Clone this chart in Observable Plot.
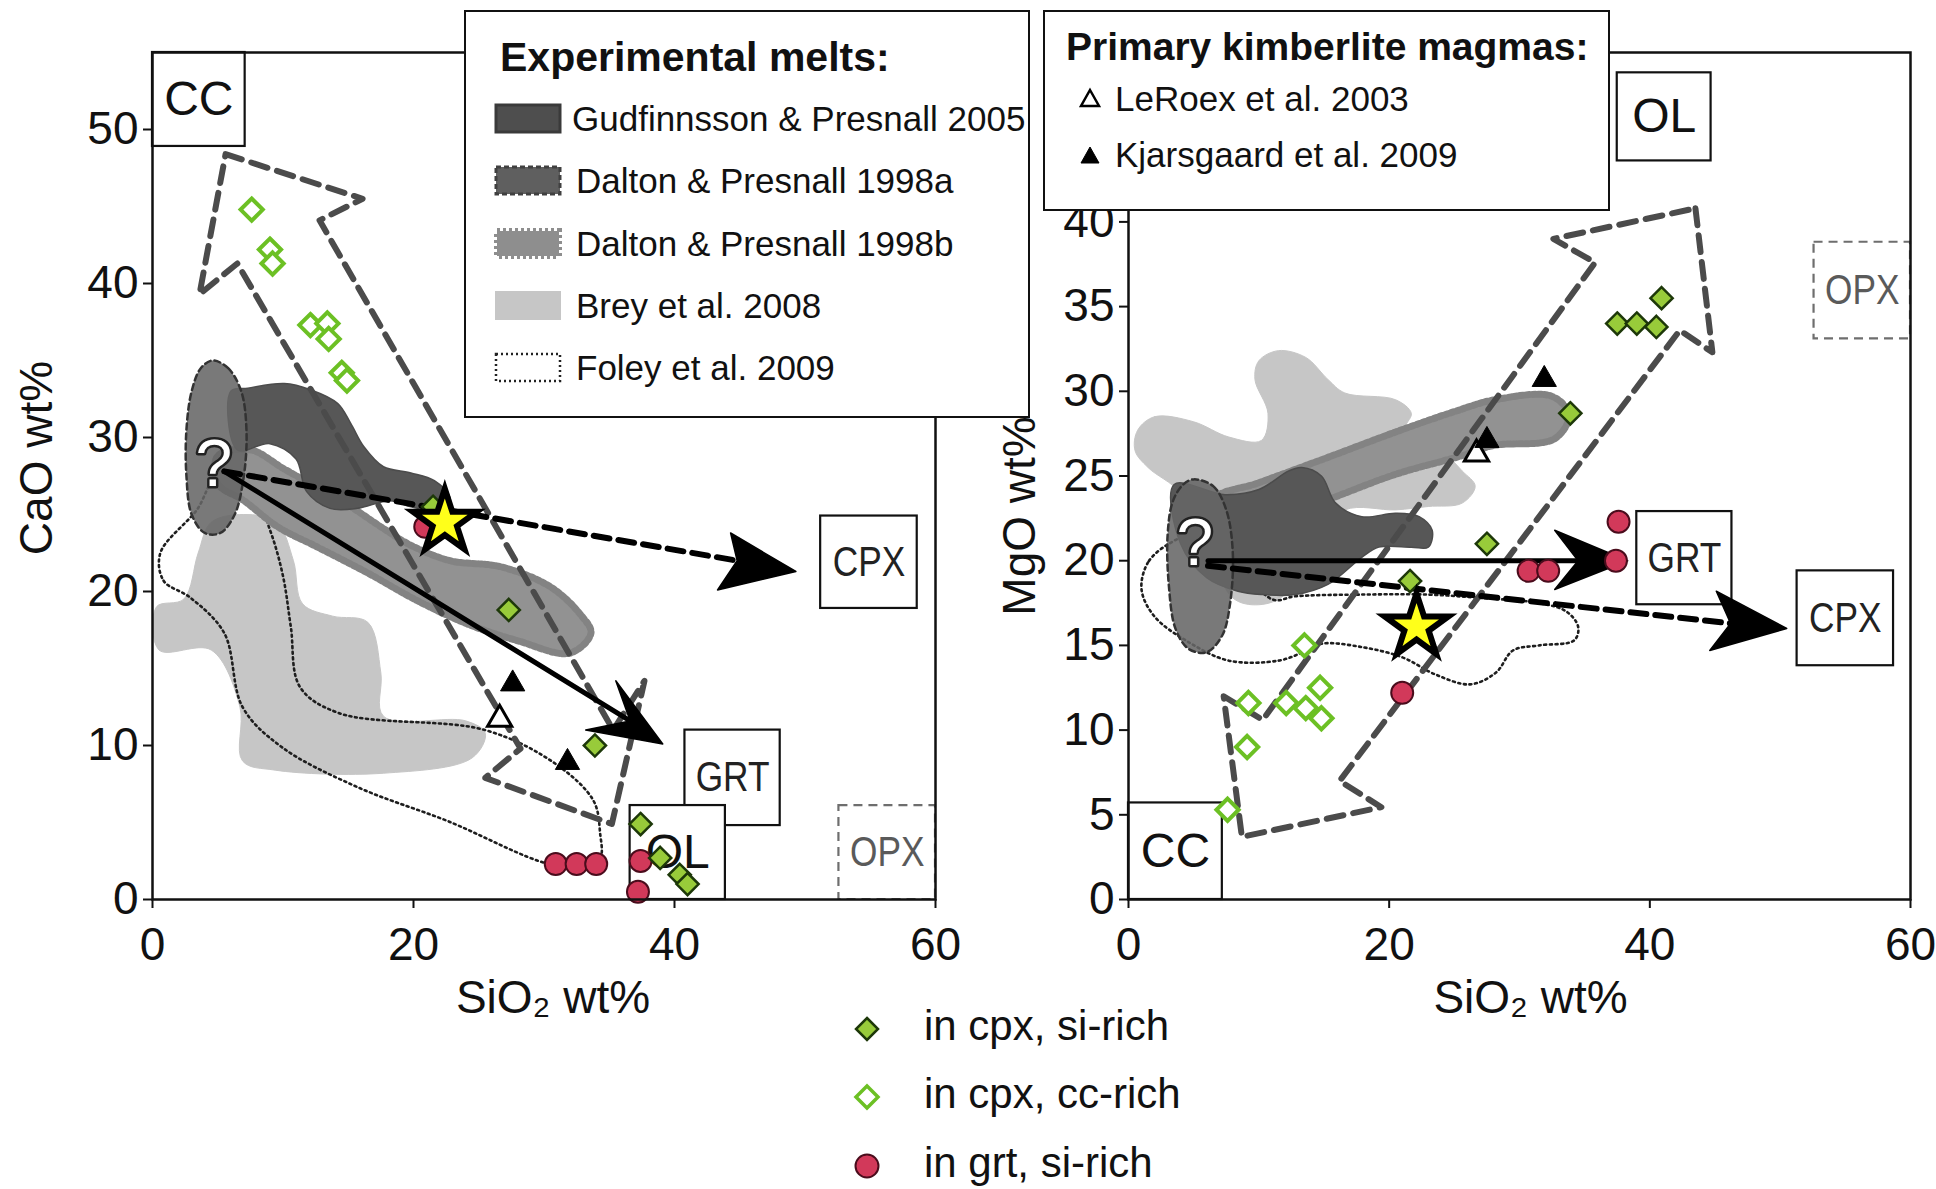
<!DOCTYPE html>
<html>
<head>
<meta charset="utf-8">
<script src="https://cdn.jsdelivr.net/npm/d3@7"></script>
<script src="https://cdn.jsdelivr.net/npm/@observablehq/plot@0.6"></script>
<style>
  body { margin: 0; background: #fff; font-family: "Liberation Sans", Arial, Helvetica, sans-serif; color: #111; }
  #wrap { position: relative; width: 1936px; height: 1189px; overflow: hidden; background: #fff; }
  #left, #right { position: absolute; top: 0; }
  #left { left: 0; }
  #right { left: 968px; }
  .box { position: absolute; background: #fff; border: 2.5px solid #111; box-sizing: border-box; }
  .abs { position: absolute; white-space: nowrap; }
  svg .tick line { stroke-width: 2px; }
  svg g[aria-label$="tick"] { stroke-width: 2px; }
</style>
</head>
<body>
<div id="wrap">
  <div id="left"></div>
  <div id="right"></div>
</div>
<script>
// ---------------- tick values ----------------
const xTicks = [0, 20, 40, 60];
const yTicksL = [0, 10, 20, 30, 40, 50];
const yTicksR = [0, 5, 10, 15, 20, 25, 30, 35, 40];

// ---------------- LEFT panel: CaO vs SiO2 ----------------
const breyL = [[0.3,19],[2.4,19.5],[3.5,22.5],[4.5,24.5],[7,25],[9.5,24.5],[10.8,22],[11.5,19.2],[13.8,18.4],[16.5,18],[17.5,14.7],[17.7,11.9],[24,11.6],[25.5,10.8],[24.5,9.2],[17.7,8.2],[9.4,8.4],[6.9,9],[6.7,12.5],[4.5,16.2],[0.5,16.2]];
const foleyL = [[0.6,22.5],[0.85,20.7],[2.9,19.6],[5.5,17.3],[6.9,12.5],[9.9,9.9],[15.7,7.3],[22.6,5.1],[30.4,2.3],[33,2.2],[34.3,2.7],[34.3,4.3],[33.8,6.4],[30.9,8.8],[25.5,11.0],[14.3,12.1],[11.3,13.8],[10.6,17.7],[10.0,21],[9,24],[7.5,26.8],[5,27.5],[3.4,25.3]];
const dalton98bL = [[5,28.8],[7.5,29.2],[10,28],[12.5,26.8],[15.2,25.5],[17.5,24.2],[19.8,23.0],[22.8,22.0],[26.7,21.6],[30.5,20.3],[32.8,18.5],[33.6,17.3],[32,16.0],[28,16.8],[24.1,17.9],[20.3,19.4],[16.5,21.2],[12.6,22.9],[9.6,24.2],[7,25.9],[5,27]];
const gudfL = [[6,33],[7.3,33.2],[10.1,33.5],[12.1,33.1],[14.2,32.2],[15.2,30.9],[16.2,29.4],[17.7,28.1],[19.8,27.7],[21.6,27.2],[22.8,26.1],[22.5,25.2],[19.8,25.5],[18.2,25.9],[15.7,25.4],[13.6,25.4],[11.8,26.5],[11,28.6],[9,29.6],[6.5,29.2]];
const dalton98aL = [[4.6,35.0],[5.8,34.5],[6.8,33],[7.2,30.5],[7.0,27.5],[6.3,25],[5.2,23.8],[4.0,23.8],[3.0,25],[2.6,27.5],[2.6,30.5],[3.0,33],[3.7,34.5]];
const bigArrowL = [[5.6,48.4],[16.1,45.5],[12.8,44.1],[35.3,11.0],[37.7,14.2],[35.2,4.9],[25.5,7.9],[28.2,9.8],[6.5,41.3],[3.6,39.3]];
const boxSmallL = [{label:"GRT", x1:40.8, x2:48.1, y1:4.8, y2:11.0}, {label:"CPX", x1:51.2, x2:58.6, y1:18.9, y2:24.9}];
const boxBigL = [{label:"CC", x1:0, x2:7.1, y1:48.9, y2:55}, {label:"OL", x1:36.6, x2:43.9, y1:0, y2:6.1}];
const boxDashL = [{label:"OPX", x1:52.6, x2:60, y1:0, y2:6.1}];
const dashLineL = [[5.5,27.8],[44.8,22.0]];
const dashHeadL = [[49.3,21.3],[44.3,23.8],[44.8,22.0],[43.3,20.1]];
const solidLineL = [[5.5,27.8],[36.6,11.6]];
const solidHeadL = [[39.1,10.1],[35.5,14.2],[36.6,11.6],[33.2,11.0]];
const siRichL = [[21.5,25.5],[27.3,18.8],[33.9,10.0],[37.4,4.9],[38.9,2.7],[40.4,1.6],[41.0,1.0]];
const ccRichL = [[7.6,44.8],[9.0,42.2],[9.2,41.3],[12.1,37.3],[13.4,37.4],[13.5,36.4],[14.5,34.2],[14.9,33.7]];
const grtL = [[20.9,24.2],[30.9,2.3],[32.5,2.3],[34.0,2.3],[37.4,2.5],[37.2,0.5]];
const leRoexL = [[26.6,11.7]];
const kjarsL = [[27.6,14.0],[31.8,8.9]];
const starL = [[22.4,24.5]];
const questionL = [[4.7,28.2]];

// ---------------- RIGHT panel: MgO vs SiO2 ----------------
const breyR = [[0.7,27.7],[2,28.5],[5,28.2],[7.7,27.3],[10.2,27.1],[10.7,28.7],[9.7,30.7],[10,31.8],[11.5,32.4],[13.6,32],[15.3,30.7],[16.6,29.9],[20.5,29.5],[21.7,28.7],[21.2,27.7],[24,26.5],[25.6,25.3],[26.6,24.4],[25.6,23.4],[23,23.2],[20.5,23],[16.6,23],[14,21],[12,18],[10,17.4],[8,17.8],[6,21],[4,24],[1.5,25.5],[0.5,26.5]];
const foleyR = [[3.1,21.0],[1.5,19.9],[1.0,18.3],[2.0,16.7],[4.6,15.2],[7.7,14.1],[11.5,14.1],[13.4,14.6],[14.8,15.1],[17.9,14.9],[21,14.3],[23.5,13.3],[26.2,12.7],[28.2,13.4],[29.5,14.7],[31.5,15.0],[34.2,15.3],[34.5,16.1],[33.6,17.0],[31.5,17.5],[27,17.8],[23.0,18.0],[17.9,18.0],[12.8,17.9],[11.1,17.7],[8,20],[5,21.5]];
const dalton98bR = [[6.5,23.6],[10,24.6],[15.3,26.1],[20.5,27.6],[25,28.8],[28.1,29.5],[32.5,29.7],[33.8,28.6],[32.7,27.2],[28,26.8],[25.6,26.2],[20.5,25.1],[15.3,23.6],[10,22.1],[6.5,21.4]];
const gudfR = [[3.5,24.5],[7.4,23.9],[10,24.2],[12.3,25.3],[13.3,25.5],[14.8,25],[15.9,23.4],[17.9,22.6],[20.5,22.8],[22.3,22.6],[23.3,21.8],[23,20.8],[21.7,20.8],[19.2,20.8],[17.9,20.2],[15.3,18.6],[12.8,18],[10.2,18],[8.4,18.2],[6,19],[4,21]];
const dalton98aR = [[5,24.8],[6.5,24.4],[7.5,23],[8,20.5],[7.8,17.5],[7.2,15.6],[6,14.6],[4.6,14.8],[3.6,16],[3.1,18.5],[3,21.5],[3.4,23.5],[4.2,24.5]];
const bigArrowR = [[43.5,40.8],[44.8,32.3],[42.3,33.6],[16.2,7.0],[19.4,5.45],[8.7,3.7],[7.3,12.0],[10.3,10.6],[35.8,37.6],[32.6,39.0]];
const boxSmallR = [{label:"GRT", x1:39.0, x2:46.3, y1:17.4, y2:22.9}, {label:"CPX", x1:51.3, x2:58.7, y1:13.8, y2:19.4}];
const boxBigR = [{label:"CC", x1:0, x2:7.2, y1:0, y2:5.7}, {label:"OL", x1:37.5, x2:44.7, y1:43.6, y2:48.8}];
const boxDashR = [{label:"OPX", x1:52.6, x2:60, y1:33.1, y2:38.8}];
const dashLineR = [[6.1,19.7],[46.2,16.3]];
const dashHeadR = [[50.5,16.0],[45.1,18.2],[46.2,16.3],[44.6,14.7]];
const solidLineR = [[6.1,20.0],[34.5,20.0]];
const solidHeadR = [[38.3,20.0],[32.7,21.8],[34.5,20.0],[32.7,18.3]];
const siRichR = [[21.6,18.8],[27.5,21.0],[33.9,28.7],[37.5,34.0],[39.0,34.0],[40.5,33.8],[40.9,35.5]];
const ccRichR = [[13.5,15.0],[9.2,11.6],[12.1,11.6],[14.7,12.5],[13.6,11.3],[14.8,10.7],[9.1,9.0],[7.6,5.3]];
const grtR = [[21.0,12.2],[30.7,19.4],[32.2,19.4],[37.6,22.3],[37.4,20.0]];
const leRoexR = [[26.7,26.3]];
const kjarsR = [[27.5,27.1],[31.9,30.7]];
const starR = [[22.1,16.1]];
const questionR = [[5.1,21.0]];

// ---------------- drawing ----------------
const FONT = '"Liberation Sans", Arial, Helvetica, sans-serif';
const xy = {x: d => d[0], y: d => d[1]};
const rxy = {x1: "x1", x2: "x2", y1: "y1", y2: "y2"};
const field = (pts, o) => Plot.line(pts, {...xy, curve: "catmull-rom-closed", ...o});
const mid = {x: d => (d.x1 + d.x2) / 2, y: d => (d.y1 + d.y2) / 2, text: "label"};

function panel(P) {
  const svg = Plot.plot({
    width: 968, height: 1189,
    marginLeft: P.ml, marginRight: P.mr, marginTop: 52, marginBottom: 290,
    style: {fontFamily: FONT, fontSize: "46px", color: "#111", background: "transparent", overflow: "visible"},
    x: {domain: [0, 60], ticks: xTicks, tickSize: 9, tickPadding: 19, label: null},
    y: {domain: P.ydom, ticks: P.yticks, tickSize: 9, tickPadding: 5, label: null},
    marks: [
      field(P.brey, {fill: "#c6c6c6", stroke: "#c6c6c6", strokeWidth: 1}),
      field(P.foley, {fill: "none", stroke: "#1e1e1e", strokeWidth: 2.6, strokeDasharray: "2,3.6"}),
      field(P.d98b, {fill: "#929292", stroke: "#838383", strokeWidth: 7, strokeDasharray: "3,3"}),
      field(P.gud, {fill: "#575757", stroke: "#4c4c4c", strokeWidth: 1.5}),
      field(P.d98a, {fill: "#666666", fillOpacity: 0.88, stroke: "#333", strokeWidth: 2.5, strokeDasharray: "6,4"}),
      Plot.line(P.bigArrow, {...xy, curve: "linear-closed", fill: "none", stroke: "#4b4b4b", strokeWidth: 6, strokeDasharray: "17,10"}),
      Plot.rect(P.boxSmall, {...rxy, fill: "white", stroke: "#111", strokeWidth: 2.2}),
      Plot.rect(P.boxBig, {...rxy, fill: "white", stroke: "#111", strokeWidth: 2.2}),
      Plot.rect(P.boxDash, {...rxy, fill: "white", stroke: "#6e6e6e", strokeWidth: 2.2, strokeDasharray: "9,6"}),
      Plot.text(P.boxSmall, {...mid, fontSize: 42, fill: "#222"}),
      Plot.text(P.boxBig, {...mid, fontSize: 48, fill: "#111"}),
      Plot.text(P.boxDash, {...mid, fontSize: 42, fill: "#5a5a5a"}),
      Plot.line(P.dashLine, {...xy, stroke: "black", strokeWidth: 6, strokeDasharray: "16,9"}),
      Plot.line(P.dashHead, {...xy, curve: "linear-closed", fill: "black", stroke: "black", strokeWidth: 1.5}),
      Plot.line(P.solidLine, {...xy, stroke: "black", strokeWidth: 5}),
      Plot.line(P.solidHead, {...xy, curve: "linear-closed", fill: "black", stroke: "black", strokeWidth: 1.5}),
      Plot.dot(P.grt, {...xy, r: 11, fill: "#d2395a", stroke: "#4a0c1c", strokeWidth: 2}),
      Plot.dot(P.cc, {...xy, symbol: "diamond2", r: 10, fill: "white", stroke: "#6cc024", strokeWidth: 4}),
      Plot.dot(P.si, {...xy, symbol: "diamond2", r: 10, fill: "#98cb3a", stroke: "#1d3809", strokeWidth: 2.5}),
      Plot.dot(P.leroex, {...xy, symbol: "triangle", r: 9, fill: "white", stroke: "black", strokeWidth: 3}),
      Plot.dot(P.kjars, {...xy, symbol: "triangle", r: 9, fill: "black", stroke: "black", strokeWidth: 1}),
      Plot.dot(P.star, {...xy, symbol: "star", r: 20, fill: "#ffff1a", stroke: "black", strokeWidth: 6, strokeLinejoin: "miter"}),
      Plot.text(P.q, {...xy, text: () => "?", fontSize: 66, fill: "white", stroke: "#222", strokeWidth: 5, paintOrder: "stroke"}),
      Plot.frame({stroke: "#111", strokeWidth: 2.5}),
      Plot.text([P.xLabel], {frameAnchor: "bottom", textAnchor: "middle", lineAnchor: "middle", dx: P.xdx, dy: 99, text: d => d, fontSize: 46}),
      Plot.text([P.yLabel], {frameAnchor: "left", textAnchor: "middle", lineAnchor: "middle", rotate: -90, dx: P.ydx, dy: P.ydy, text: d => d, fontSize: 46})
    ]
  });
  // condense narrow box labels like the original lettering
  d3.select(svg).selectAll("text").filter(function () {
    return ["CPX", "GRT", "OPX"].includes(this.textContent);
  }).each(function () {
    const t = this.getAttribute("transform");
    if (t && !this.hasAttribute("x")) this.setAttribute("transform", t + " scale(0.84,1)");
  });
  return svg;
}

document.getElementById("left").appendChild(panel({
  ml: 152, mr: 33, ydom: [0, 55], yticks: yTicksL,
  brey: breyL, foley: foleyL, d98b: dalton98bL, gud: gudfL, d98a: dalton98aL,
  bigArrow: bigArrowL, boxSmall: boxSmallL, boxBig: boxBigL, boxDash: boxDashL,
  dashLine: dashLineL, dashHead: dashHeadL, solidLine: solidLineL, solidHead: solidHeadL,
  grt: grtL, cc: ccRichL, si: siRichL, leroex: leRoexL, kjars: kjarsL, star: starL, q: questionL,
  xLabel: "SiO₂ wt%", yLabel: "CaO wt%", xdx: 9, ydx: -115, ydy: -18
}));
document.getElementById("right").appendChild(panel({
  ml: 160, mr: 26, ydom: [0, 50], yticks: yTicksR,
  brey: breyR, foley: foleyR, d98b: dalton98bR, gud: gudfR, d98a: dalton98aR,
  bigArrow: bigArrowR, boxSmall: boxSmallR, boxBig: boxBigR, boxDash: boxDashR,
  dashLine: dashLineR, dashHead: dashHeadR, solidLine: solidLineR, solidHead: solidHeadR,
  grt: grtR, cc: ccRichR, si: siRichR, leroex: leRoexR, kjars: kjarsR, star: starR, q: questionR,
  xLabel: "SiO₂ wt%", yLabel: "MgO wt%", xdx: 11, ydx: -108, ydy: 40
}));

// ---------------- legends (HTML overlays) ----------------
const meltItems = ["Gudfinnsson & Presnall 2005", "Dalton & Presnall 1998a", "Dalton & Presnall 1998b", "Brey et al. 2008", "Foley et al. 2009"];
const kimbItems = ["LeRoex et al. 2003", "Kjarsgaard et al. 2009"];
const markerItems = ["in cpx, si-rich", "in cpx, cc-rich", "in grt, si-rich"];

const wrap = document.getElementById("wrap");
function add(html) { wrap.insertAdjacentHTML("beforeend", html); }

add(`<div class="box" style="left:464px;top:10px;width:566px;height:408px"></div>`);
add(`<div class="abs" style="left:500px;top:37px;font-size:41px;line-height:41px;font-weight:bold">Experimental melts:</div>`);
const meltSwatch = [
  `<rect x="2" y="2" width="64" height="27" fill="#4e4e4e" stroke="#3a3a3a" stroke-width="3"/>`,
  `<rect x="2" y="2" width="64" height="27" fill="#5f5f5f" stroke="#404040" stroke-width="3" stroke-dasharray="5,3"/>`,
  `<rect x="3" y="3" width="62" height="25" fill="#8e8e8e" stroke="#8e8e8e" stroke-width="6" stroke-dasharray="3,3"/>`,
  `<rect x="1" y="1" width="66" height="29" fill="#c6c6c6"/>`,
  `<rect x="2" y="2" width="64" height="27" fill="white" stroke="#222" stroke-width="2.5" stroke-dasharray="2,3"/>`
];
const meltY = [118, 180, 243, 305, 367];
meltItems.forEach((t, i) => {
  add(`<svg class="abs" style="left:494px;top:${meltY[i] - 15.5}px" width="68" height="31">${meltSwatch[i]}</svg>`);
  add(`<div class="abs" style="left:${i === 0 ? 572 : 576}px;top:${meltY[i] - 17.5}px;font-size:35px;line-height:35px">${t.replace("&", "&amp;")}</div>`);
});

add(`<div class="box" style="left:1043px;top:10px;width:567px;height:201px"></div>`);
add(`<div class="abs" style="left:1066px;top:27px;font-size:39px;line-height:39px;font-weight:bold">Primary kimberlite magmas:</div>`);
const kimbY = [98, 154.5];
const kimbSym = [
  `<polygon points="11,3 20,19 2,19" fill="white" stroke="black" stroke-width="2.5"/>`,
  `<polygon points="11,3 20,19 2,19" fill="black" stroke="black" stroke-width="1"/>`
];
kimbItems.forEach((t, i) => {
  add(`<svg class="abs" style="left:1079px;top:${kimbY[i] - 11}px" width="22" height="22">${kimbSym[i]}</svg>`);
  add(`<div class="abs" style="left:1115px;top:${kimbY[i] - 17.5}px;font-size:35px;line-height:35px">${t}</div>`);
});

const markY = [1029, 1097, 1166];
const markSym = [
  `<polygon points="15,4 26,15 15,26 4,15" fill="#98cb3a" stroke="#1d3809" stroke-width="2.5"/>`,
  `<polygon points="15,4 26,15 15,26 4,15" fill="white" stroke="#6cc024" stroke-width="3.5"/>`,
  `<circle cx="15" cy="15" r="11.5" fill="#d2395a" stroke="#4a0c1c" stroke-width="2"/>`
];
markerItems.forEach((t, i) => {
  add(`<svg class="abs" style="left:852px;top:${markY[i] - 15}px" width="30" height="30">${markSym[i]}</svg>`);
  add(`<div class="abs" style="left:924px;top:${markY[i] - 24}px;font-size:42px;line-height:42px">${t}</div>`);
});
</script>
</body>
</html>
